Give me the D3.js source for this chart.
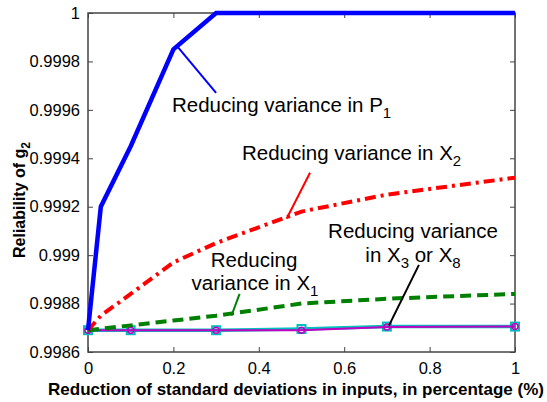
<!DOCTYPE html>
<html>
<head>
<meta charset="utf-8">
<script src="https://cdn.jsdelivr.net/npm/d3@7"></script>
<style>
  body { margin: 0; background: #fff; }
  text { font-family: Arial, "Liberation Sans", sans-serif; }
</style>
</head>
<body>
<div id="chart"></div>
<script>
// set the dimensions and margins of the graph
var width = 547,
    height = 402,
    margin = {top: 13, right: 32, bottom: 50, left: 88}

// data
var xP1 = [0, 0.03, 0.1, 0.2, 0.3, 0.5, 0.7, 1]
var yP1 = [0.99869, 0.99920, 0.99945, 0.99985, 1, 1, 1, 1]

var xX2 = [0, 0.03, 0.1, 0.2, 0.3, 0.5, 0.7, 1]
var yX2 = [0.99869, 0.99875, 0.99884, 0.99897, 0.99905, 0.99918, 0.99925, 0.99932]

var xX1 = [0, 0.1, 0.2, 0.3, 0.5, 0.7, 1]
var yX1 = [0.99869, 0.99871, 0.99873, 0.99875, 0.99880, 0.99882, 0.99884]

var xX3 = [0, 0.1, 0.3, 0.5, 0.7, 1]
var yX3 = [0.99869, 0.99869, 0.99869, 0.998695, 0.998705, 0.998705]
var yX8 = [0.99869, 0.99869, 0.99869, 0.99869, 0.998703, 0.998705]

var xTicks = [0, 0.2, 0.4, 0.6, 0.8, 1]
var yTicks = [0.9986, 0.9988, 0.999, 0.9992, 0.9994, 0.9996, 0.9998, 1]

var svg = d3.select("#chart")
  .append("svg")
    .attr("width", width)
    .attr("height", height)

var x = d3.scaleLinear().domain([0, 1]).range([margin.left, width - margin.right])
var y = d3.scaleLinear().domain([0.9986, 1]).range([height - margin.bottom, margin.top])

var axisColor = "#444"

// frame
svg.append("rect")
  .attr("x", x(0)).attr("y", y(1))
  .attr("width", x(1) - x(0)).attr("height", y(0.9986) - y(1))
  .attr("fill", "none").attr("stroke", axisColor).attr("stroke-width", 1.5)

// axes with inward ticks
function styleAxis(g) {
  g.select(".domain").remove()
  g.selectAll("line").attr("stroke", axisColor)
  g.selectAll("text").attr("font-size", "16.5px").attr("fill", "#000")
}
svg.append("g")
  .attr("transform", "translate(0," + y(0.9986) + ")")
  .call(d3.axisBottom(x).tickValues(xTicks).tickSize(-5).tickPadding(10).tickFormat(d3.format("")))
  .call(styleAxis)
svg.append("g")
  .attr("transform", "translate(0," + y(1) + ")")
  .call(d3.axisTop(x).tickValues(xTicks).tickSize(-5).tickFormat(""))
  .call(styleAxis)
svg.append("g")
  .attr("transform", "translate(" + x(0) + ",0)")
  .call(d3.axisLeft(y).tickValues(yTicks).tickSize(-5).tickPadding(8).tickFormat(d3.format("")))
  .call(styleAxis)
svg.append("g")
  .attr("transform", "translate(" + x(1) + ",0)")
  .call(d3.axisRight(y).tickValues(yTicks).tickSize(-5).tickFormat(""))
  .call(styleAxis)

// lines
var line = d3.line().x(function(d) { return x(d[0]) }).y(function(d) { return y(d[1]) })
function pairs(xs, ys) { return xs.map(function(v, i) { return [v, ys[i]] }) }

svg.append("path").datum(pairs(xX3, yX3))
  .attr("d", line).attr("fill", "none").attr("stroke", "#00bfbf").attr("stroke-width", 3.5)
svg.selectAll(".sq").data(pairs(xX3, yX3)).enter().append("rect")
  .attr("x", function(d) { return x(d[0]) - 4 }).attr("y", function(d) { return y(d[1]) - 4 })
  .attr("width", 8).attr("height", 8)
  .attr("fill", "none").attr("stroke", "#00bfbf").attr("stroke-width", 2)

svg.append("path").datum(pairs(xX3, yX8))
  .attr("d", line).attr("fill", "none").attr("stroke", "#bf00bf").attr("stroke-width", 2)
svg.selectAll(".ci").data(pairs(xX3, yX8)).enter().append("circle")
  .attr("cx", function(d) { return x(d[0]) }).attr("cy", function(d) { return y(d[1]) })
  .attr("r", 3)
  .attr("fill", "none").attr("stroke", "#bf00bf").attr("stroke-width", 1.5)

svg.append("path").datum(pairs(xX1, yX1))
  .attr("d", line).attr("fill", "none").attr("stroke", "#008000").attr("stroke-width", 4)
  .attr("stroke-dasharray", "11,6")

svg.append("path").datum(pairs(xX2, yX2))
  .attr("d", line).attr("fill", "none").attr("stroke", "#ff0000").attr("stroke-width", 4)
  .attr("stroke-dasharray", "11,5,3,5")

svg.append("path").datum(pairs(xP1, yP1))
  .attr("d", line).attr("fill", "none").attr("stroke", "#0000ff").attr("stroke-width", 4.5)

// annotations
function pointer(x1, y1, x2, y2, color) {
  svg.append("line").attr("x1", x(x1)).attr("y1", y(y1)).attr("x2", x(x2)).attr("y2", y(y2))
    .attr("stroke", color).attr("stroke-width", 2)
}
pointer(0.3, 0.99967, 0.21, 0.99986, "#0000ff")
pointer(0.52, 0.99934, 0.465, 0.99915, "#ff0000")
pointer(0.355, 0.99884, 0.336, 0.99875, "#008000")
pointer(0.775, 0.99896, 0.705, 0.99871, "#000")

// text pieces: plain strings, or {sub: "..."} for a subscript
function label(tx, ty, parts, anchor) {
  var t = svg.append("text").attr("x", tx).attr("y", ty).attr("font-size", "20.5px")
    .attr("text-anchor", anchor || "start")
  var lowered = false
  parts.forEach(function(p) {
    if (typeof p === "object") {
      t.append("tspan").attr("dy", 6).attr("font-size", "15px").text(p.sub)
      lowered = true
    } else {
      t.append("tspan").attr("dy", lowered ? -6 : 0).text(p)
      lowered = false
    }
  })
}
label(172, 112, ["Reducing variance in P", {sub: "1"}])
label(242, 160, ["Reducing variance in X", {sub: "2"}])
label(254, 267, ["Reducing"], "middle")
label(255, 290, ["variance in X", {sub: "1"}], "middle")
label(413, 238, ["Reducing variance"], "middle")
label(413, 262, ["in X", {sub: "3"}, " or X", {sub: "8"}], "middle")

// axis titles
svg.append("text")
  .attr("x", 296).attr("y", 395).attr("text-anchor", "middle")
  .attr("font-size", "17px").attr("font-weight", "bold")
  .text("Reduction of standard deviations in inputs, in percentage (%)")

var yl = svg.append("text")
  .attr("transform", "translate(25," + 200 + ") rotate(-90)")
  .attr("text-anchor", "middle").attr("font-size", "16px").attr("font-weight", "bold")
yl.append("tspan").text("Reliability of g")
yl.append("tspan").attr("dy", 5).attr("font-size", "12px").text("2")
</script>
</body>
</html>
